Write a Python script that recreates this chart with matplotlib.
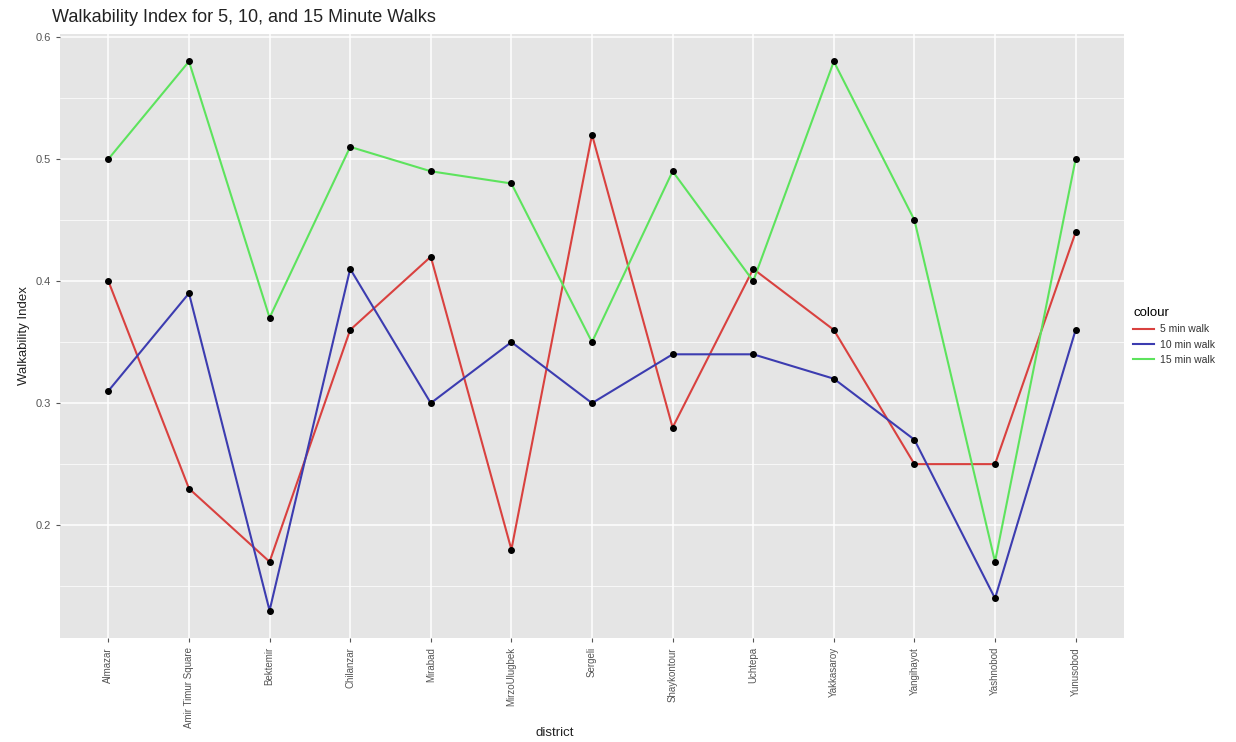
import matplotlib
matplotlib.use("Agg")
import matplotlib.pyplot as plt
from matplotlib.ticker import MultipleLocator

districts = ["Almazar", "Amir Timur Square", "Bektemir", "Chilanzar", "Mirabad",
             "MirzoUlugbek", "Sergeli", "Shaykontour", "Uchtepa", "Yakkasaroy",
             "Yangihayot", "Yashnobod", "Yunusobod"]
walk5 = [0.40, 0.23, 0.17, 0.36, 0.42, 0.18, 0.52, 0.28, 0.41, 0.36, 0.25, 0.25, 0.44]
walk10 = [0.31, 0.39, 0.13, 0.41, 0.30, 0.35, 0.30, 0.34, 0.34, 0.32, 0.27, 0.14, 0.36]
walk15 = [0.50, 0.58, 0.37, 0.51, 0.49, 0.48, 0.35, 0.49, 0.40, 0.58, 0.45, 0.17, 0.50]
series_names = ["5 min walk", "10 min walk", "15 min walk"]

PANEL = "#e5e5e5"
COLORS = ["#d9413f", "#3c3cb0", "#5de35d"]
TICK = "#555555"
NARROW = ["Liberation Sans Narrow", "Liberation Sans", "DejaVu Sans"]

plt.rcParams["font.family"] = ["Liberation Sans", "DejaVu Sans"]

fig = plt.figure(figsize=(12.36, 7.42), dpi=100)
ax = fig.add_axes([60 / 1236, 104 / 742, 1064 / 1236, 604 / 742])
ax.set_facecolor(PANEL)

x = list(range(len(districts)))
for vals, name, c in zip((walk5, walk10, walk15), series_names, COLORS):
    ax.plot(x, vals, color=c, lw=1.5, label=name, zorder=3)
    ax.scatter(x, vals, s=16, color="black", zorder=4)

ax.set_xlim(-0.6, len(districts) - 0.4)
ax.set_ylim(0.1075, 0.6025)
ax.yaxis.set_major_locator(MultipleLocator(0.1))
ax.yaxis.set_minor_locator(MultipleLocator(0.05))
ax.set_xticks(x)
ax.set_xticklabels(districts, rotation=90, fontsize=7, color=TICK, family=NARROW)
ax.tick_params(axis="y", labelsize=8, colors=TICK, length=3)
ax.tick_params(axis="x", length=3, colors=TICK)
ax.tick_params(which="minor", length=0)
ax.grid(which="major", color="white", lw=1.1, zorder=0)
ax.grid(which="minor", axis="y", color="white", lw=0.5, zorder=0)
ax.set_axisbelow(True)
for s in ax.spines.values():
    s.set_visible(False)

ax.set_xlabel("district", fontsize=9.5, color="#222222")
ax.xaxis.set_label_coords(0.465, -0.148)
ax.set_ylabel("Walkability Index", fontsize=9.5, color="#222222", family=NARROW)
fig.text(52 / 1236, 1 - 18 / 742, "Walkability Index for 5, 10, and 15 Minute Walks",
         fontsize=13, color="#222222", va="center", ha="left")

leg = ax.legend(title="colour", loc="center left", bbox_to_anchor=(1.0, 0.5),
                frameon=False, fontsize=7.5, title_fontsize=9.5, handlelength=2.0,
                handletextpad=0.6, alignment="left")
for t in leg.get_texts():
    t.set_color("#333333")

fig.savefig("out.png", dpi=100, facecolor="white")
